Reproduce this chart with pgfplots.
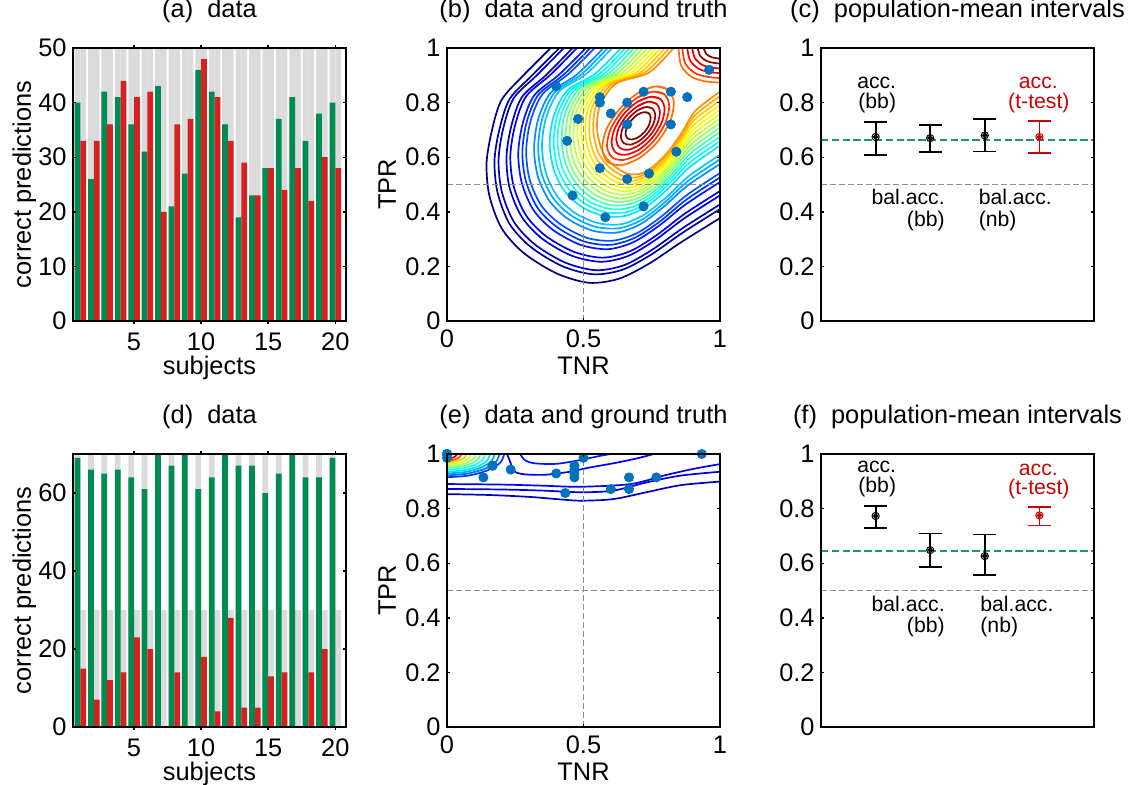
\documentclass[border=0pt]{standalone}
\usepackage{fontspec}
\setmainfont{Liberation Sans}
\usepackage{pgfplots}
\pgfplotsset{compat=1.18}

\definecolor{bargray}{rgb}{0.86,0.86,0.86}
\definecolor{bargreen}{rgb}{0,0.545,0.318}
\definecolor{barred}{rgb}{0.84,0.13,0.13}
\definecolor{dotblue}{rgb}{0,0.447,0.741}
\definecolor{refgray}{rgb}{0.55,0.55,0.55}
\definecolor{linegreen}{rgb}{0.1,0.6,0.4}
\definecolor{ttred}{rgb}{0.8,0,0}
% jet colormap, 35 levels
\definecolor{k01}{rgb}{0,0,0.5}
\definecolor{k02}{rgb}{0,0,0.62}
\definecolor{k03}{rgb}{0,0,0.74}
\definecolor{k04}{rgb}{0,0,0.85}
\definecolor{k05}{rgb}{0,0,0.97}
\definecolor{k06}{rgb}{0,0.09,1}
\definecolor{k07}{rgb}{0,0.21,1}
\definecolor{k08}{rgb}{0,0.32,1}
\definecolor{k09}{rgb}{0,0.44,1}
\definecolor{k10}{rgb}{0,0.56,1}
\definecolor{k11}{rgb}{0,0.68,1}
\definecolor{k12}{rgb}{0,0.79,1}
\definecolor{k13}{rgb}{0,0.91,1}
\definecolor{k14}{rgb}{0.03,1,0.97}
\definecolor{k15}{rgb}{0.15,1,0.85}
\definecolor{k16}{rgb}{0.26,1,0.74}
\definecolor{k17}{rgb}{0.38,1,0.62}
\definecolor{k18}{rgb}{0.5,1,0.5}
\definecolor{k19}{rgb}{0.62,1,0.38}
\definecolor{k20}{rgb}{0.74,1,0.26}
\definecolor{k21}{rgb}{0.85,1,0.15}
\definecolor{k22}{rgb}{0.97,1,0.03}
\definecolor{k23}{rgb}{1,0.91,0}
\definecolor{k24}{rgb}{1,0.79,0}
\definecolor{k25}{rgb}{1,0.68,0}
\definecolor{k26}{rgb}{1,0.56,0}
\definecolor{k27}{rgb}{1,0.44,0}
\definecolor{k28}{rgb}{1,0.32,0}
\definecolor{k29}{rgb}{1,0.21,0}
\definecolor{k30}{rgb}{1,0.09,0}
\definecolor{k31}{rgb}{0.97,0,0}
\definecolor{k32}{rgb}{0.85,0,0}
\definecolor{k33}{rgb}{0.74,0,0}
\definecolor{k34}{rgb}{0.62,0,0}
\definecolor{k35}{rgb}{0.5,0,0}

\newcommand{\annot}{\fontsize{10.6}{12}\selectfont}

\pgfplotsset{
  panel/.style={
    scale only axis, width=136.5pt, height=136.5pt, anchor=south west,
    font=\fontsize{12.7}{15}\selectfont,
    axis on top,
    tick align=inside, tick pos=both,
    major tick length=1.6pt,
    axis line style={line width=0.8pt},
    every tick/.style={black, line width=0.7pt},
    /pgf/number format/assume math mode=true,
    xticklabel style={anchor=base, inner sep=0pt, yshift=-13.3pt},
    yticklabel style={anchor=east, inner sep=0pt, xshift=-3pt},
    title style={at={(axis description cs:0.5,1.068)}, anchor=base, inner sep=0pt},
    every axis x label/.style={at={(axis description cs:0.5,-0.1945)}, anchor=base, inner sep=0pt},
    every axis y label/.style={at={(axis description cs:-0.1544,0.5)}, rotate=90, anchor=base, inner sep=0pt},
  },
  cl/.style={no markers, smooth, line width=0.85pt},
  dots/.style={only marks, mark=*, mark size=2.3pt, mark options={draw=dotblue, fill=dotblue}},
  gdash/.style={no markers, refgray, line width=0.6pt, dash pattern=on 3pt off 1.5pt},
  ebar/.style={only marks, mark=*, mark size=0.9pt, line width=0.9pt,
    error bars/y dir=both, error bars/y explicit,
    error bars/error bar style={line width=0.9pt},
    error bars/error mark options={rotate=90, mark size=5.7pt, line width=0.9pt}},
  ering/.style={only marks, mark=o, mark size=1.8pt, mark options={line width=0.5pt}},
}

\begin{document}
\begin{tikzpicture}
\path[use as bounding box] (0,0) rectangle (565pt,392pt);

% (a) bars
\begin{axis}[panel, at={(36.5pt,231.5pt)},
  ybar, bar width=0.43, enlargelimits=false,
  xmin=0.45, xmax=20.8, ymin=0, ymax=50,
  xtick={5,10,15,20}, ytick={0,10,20,30,40,50},
  title={(a)~~data}, xlabel={subjects}, ylabel={correct predictions}]
\addplot[fill=bargray, draw=none, bar shift=-0.215] coordinates {
 (1,50)(2,50)(3,50)(4,50)(5,50)(6,50)(7,50)(8,50)(9,50)(10,50)
 (11,50)(12,50)(13,50)(14,50)(15,50)(16,50)(17,50)(18,50)(19,50)(20,50)};
\addplot[fill=bargray, draw=none, bar shift=0.215] coordinates {
 (1,50)(2,50)(3,50)(4,50)(5,50)(6,50)(7,50)(8,50)(9,50)(10,50)
 (11,50)(12,50)(13,50)(14,50)(15,50)(16,50)(17,50)(18,50)(19,50)(20,50)};
\addplot[fill=bargreen, draw=none, bar shift=-0.215] coordinates {
 (1,40)(2,26)(3,42)(4,41)(5,36)(6,31)(7,43)(8,21)(9,27)(10,46)
 (11,42)(12,36)(13,19)(14,23)(15,28)(16,37)(17,41)(18,33)(19,38)(20,40)};
\addplot[fill=barred, draw=none, bar shift=0.215] coordinates {
 (1,33)(2,33)(3,36)(4,44)(5,41)(6,42)(7,20)(8,36)(9,37)(10,48)
 (11,41)(12,33)(13,29)(14,23)(15,28)(16,24)(17,28)(18,22)(19,30)(20,28)};
\end{axis}

% (b) contours and data
\begin{axis}[panel, at={(223.5pt,231.5pt)}, clip mode=individual,
  xmin=0, xmax=1, ymin=0, ymax=1,
  xtick={0,0.5,1}, ytick={0,0.2,0.4,0.6,0.8,1},
  title={(b)~~data and ground truth}, xlabel={TNR}, ylabel={TPR},
  ylabel style={at={(axis description cs:-0.1875,0.5)}}]
\addplot[cl, k01] coordinates {(0.380,1) (0.280,0.900) (0.200,0.810) (0.165,0.700) (0.145,0.580) (0.155,0.460) (0.200,0.340) (0.280,0.250) (0.400,0.175) (0.520,0.140) (0.630,0.155) (0.740,0.210) (0.860,0.290) (1,0.377)};
\addplot[cl, k02] coordinates {(0.412,1) (0.313,0.901) (0.230,0.814) (0.193,0.706) (0.174,0.589) (0.185,0.471) (0.229,0.356) (0.307,0.271) (0.422,0.201) (0.537,0.171) (0.643,0.188) (0.749,0.244) (0.864,0.324) (1,0.410)};
\addplot[cl, k03] coordinates {(0.428,1) (0.330,0.901) (0.245,0.817) (0.207,0.710) (0.189,0.593) (0.200,0.477) (0.244,0.365) (0.321,0.281) (0.433,0.214) (0.546,0.186) (0.650,0.205) (0.753,0.262) (0.866,0.342) (1,0.427)};
\addplot[cl, k04] coordinates {(0.460,1) (0.363,0.901) (0.275,0.821) (0.236,0.716) (0.218,0.602) (0.229,0.489) (0.274,0.381) (0.348,0.302) (0.455,0.240) (0.563,0.217) (0.663,0.238) (0.762,0.296) (0.869,0.376) (1,0.460)};
\addplot[cl, k05] coordinates {(0.476,1) (0.379,0.902) (0.290,0.823) (0.250,0.719) (0.232,0.606) (0.244,0.494) (0.288,0.389) (0.361,0.312) (0.466,0.253) (0.571,0.232) (0.669,0.255) (0.766,0.313) (0.871,0.393) (1,0.476)};
\addplot[cl, k06] coordinates {(0.509,1) (0.411,0.903) (0.320,0.827) (0.278,0.726) (0.261,0.614) (0.274,0.506) (0.317,0.406) (0.389,0.333) (0.489,0.279) (0.589,0.263) (0.681,0.288) (0.774,0.347) (0.874,0.427) (1,0.509)};
\addplot[cl, k07] coordinates {(0.525,1) (0.428,0.903) (0.335,0.829) (0.292,0.729) (0.276,0.619) (0.289,0.512) (0.332,0.414) (0.403,0.344) (0.500,0.292) (0.598,0.279) (0.688,0.305) (0.779,0.364) (0.876,0.444) (1,0.526)};
\addplot[cl, k08] coordinates {(0.541,1) (0.444,0.904) (0.350,0.831) (0.306,0.732) (0.290,0.623) (0.303,0.517) (0.346,0.422) (0.416,0.354) (0.511,0.305) (0.606,0.294) (0.694,0.321) (0.783,0.381) (0.878,0.461) (1,0.542)};
\addplot[cl, k10] coordinates {(0.573,1) (0.477,0.904) (0.380,0.836) (0.334,0.739) (0.319,0.631) (0.333,0.529) (0.376,0.439) (0.443,0.374) (0.533,0.331) (0.623,0.324) (0.707,0.354) (0.791,0.416) (0.881,0.496) (1,0.575)};
\addplot[cl, k11] coordinates {(0.589,1) (0.494,0.905) (0.395,0.838) (0.349,0.742) (0.334,0.636) (0.348,0.535) (0.391,0.447) (0.457,0.385) (0.544,0.345) (0.632,0.340) (0.714,0.371) (0.796,0.433) (0.883,0.513) (1,0.592)};
\addplot[cl, k12] coordinates {(0.605,1) (0.510,0.905) (0.410,0.840) (0.363,0.745) (0.348,0.640) (0.363,0.540) (0.405,0.455) (0.470,0.395) (0.555,0.358) (0.640,0.355) (0.720,0.388) (0.800,0.450) (0.885,0.530) (1,0.609)};
\addplot[cl, k13] coordinates {(0.637,1) (0.543,0.906) (0.440,0.844) (0.391,0.751) (0.376,0.649) (0.392,0.551) (0.434,0.471) (0.497,0.416) (0.577,0.384) (0.657,0.386) (0.733,0.421) (0.809,0.484) (0.889,0.564) (1,0.642)};
\addplot[cl, k14] coordinates {(0.653,1) (0.560,0.906) (0.455,0.847) (0.405,0.755) (0.391,0.653) (0.407,0.557) (0.449,0.480) (0.511,0.426) (0.588,0.397) (0.666,0.401) (0.740,0.438) (0.813,0.502) (0.891,0.582) (1,0.659)};
\addplot[cl, k15] coordinates {(0.669,1) (0.576,0.906) (0.470,0.849) (0.419,0.758) (0.405,0.657) (0.422,0.563) (0.464,0.488) (0.524,0.436) (0.599,0.410) (0.674,0.416) (0.746,0.454) (0.817,0.519) (0.892,0.599) (1,0.675)};
\addplot[cl, k16] coordinates {(0.685,1) (0.593,0.907) (0.485,0.851) (0.433,0.761) (0.420,0.662) (0.437,0.569) (0.479,0.496) (0.538,0.447) (0.610,0.423) (0.683,0.432) (0.753,0.471) (0.822,0.536) (0.894,0.616) (1,0.692)};
\addplot[cl, k18] coordinates {(0.701,1) (0.609,0.907) (0.500,0.853) (0.447,0.764) (0.434,0.666) (0.451,0.574) (0.493,0.504) (0.551,0.457) (0.621,0.436) (0.691,0.447) (0.759,0.487) (0.826,0.553) (0.896,0.633) (1,0.708)};
\addplot[cl, k19] coordinates {(0.718,1) (0.625,0.908) (0.515,0.855) (0.461,0.768) (0.449,0.670) (0.466,0.580) (0.508,0.513) (0.565,0.468) (0.633,0.449) (0.700,0.463) (0.765,0.504) (0.830,0.570) (0.898,0.650) (1,0.725)};
\addplot[cl, k20] coordinates {(0.734,1) (0.641,0.908) (0.530,0.857) (0.475,0.771) (0.463,0.674) (0.481,0.586) (0.522,0.521) (0.579,0.478) (0.644,0.462) (0.709,0.478) (0.771,0.520) (0.834,0.587) (0.899,0.667) (1,0.741)};
\addplot[cl, k21] coordinates {(0.750,1) (0.658,0.909) (0.545,0.859) (0.490,0.774) (0.478,0.679) (0.496,0.592) (0.537,0.529) (0.593,0.489) (0.655,0.475) (0.718,0.494) (0.778,0.537) (0.839,0.604) (0.901,0.684) (1,0.758)};
\addplot[cl, k22] coordinates {(0.766,1) (0.674,0.909) (0.560,0.861) (0.504,0.777) (0.492,0.683) (0.511,0.597) (0.551,0.537) (0.606,0.499) (0.666,0.488) (0.726,0.509) (0.784,0.554) (0.843,0.621) (0.903,0.701) (1,0.774)};
\addplot[cl, k23] coordinates {(0.782,1) (0.691,0.909) (0.575,0.864) (0.518,0.781) (0.507,0.687) (0.526,0.603) (0.566,0.546) (0.620,0.509) (0.677,0.501) (0.735,0.524) (0.791,0.571) (0.847,0.639) (0.905,0.719) (1,0.791)};
\addplot[cl, k24] coordinates {(0.798,1) (0.707,0.909) (0.590,0.866) (0.532,0.784) (0.521,0.691) (0.540,0.609) (0.581,0.554) (0.633,0.519) (0.688,0.514) (0.743,0.539) (0.797,0.587) (0.851,0.656) (0.906,0.736) (1,0.807)};
\addplot[cl, k25] coordinates {(0.814,1) (0.724,0.910) (0.605,0.868) (0.546,0.787) (0.536,0.696) (0.555,0.615) (0.596,0.562) (0.647,0.530) (0.699,0.527) (0.752,0.555) (0.804,0.604) (0.856,0.673) (0.908,0.753) (1,0.824)};
\addplot[cl, k26] coordinates {(0.830,1) (0.740,0.910) (0.620,0.870) (0.560,0.790) (0.550,0.700) (0.570,0.620) (0.610,0.570) (0.660,0.540) (0.710,0.540) (0.760,0.570) (0.810,0.620) (0.860,0.690) (0.910,0.770) (1,0.840)};
% closed contours round the main peak
\addplot[cl, k27] coordinates {(0.811,0.847) (0.761,0.859) (0.695,0.832) (0.630,0.774) (0.583,0.700) (0.569,0.630) (0.589,0.583) (0.639,0.571) (0.706,0.598) (0.771,0.656) (0.817,0.730) (0.831,0.800) (0.811,0.847) (0.761,0.859) (0.695,0.832)};
\addplot[cl, k29] coordinates {(0.797,0.830) (0.753,0.840) (0.695,0.817) (0.639,0.766) (0.599,0.702) (0.586,0.641) (0.604,0.600) (0.647,0.590) (0.705,0.613) (0.761,0.664) (0.801,0.728) (0.814,0.789) (0.797,0.830) (0.753,0.840) (0.695,0.817)};
\addplot[cl, k31] coordinates {(0.782,0.813) (0.745,0.821) (0.696,0.802) (0.648,0.759) (0.614,0.704) (0.603,0.652) (0.618,0.617) (0.655,0.609) (0.704,0.628) (0.752,0.671) (0.786,0.726) (0.797,0.778) (0.782,0.813) (0.745,0.821) (0.696,0.802)};
\addplot[cl, k32] coordinates {(0.768,0.795) (0.737,0.803) (0.697,0.786) (0.657,0.751) (0.629,0.706) (0.620,0.663) (0.632,0.635) (0.663,0.627) (0.703,0.644) (0.743,0.679) (0.771,0.724) (0.780,0.767) (0.768,0.795) (0.737,0.803) (0.697,0.786)};
\addplot[cl, k34] coordinates {(0.753,0.778) (0.729,0.784) (0.697,0.771) (0.666,0.743) (0.644,0.708) (0.637,0.674) (0.647,0.652) (0.671,0.646) (0.703,0.659) (0.734,0.687) (0.756,0.722) (0.763,0.756) (0.753,0.778) (0.729,0.784) (0.697,0.771)};
\addplot[cl, k35] coordinates {(0.739,0.761) (0.721,0.765) (0.698,0.756) (0.676,0.736) (0.659,0.710) (0.654,0.686) (0.661,0.669) (0.679,0.665) (0.702,0.674) (0.725,0.694) (0.741,0.720) (0.746,0.745) (0.739,0.761) (0.721,0.765) (0.698,0.756)};
% contours round the corner (1,1)
\addplot[cl, k27] coordinates {(0.848,1) (0.858,0.935) (0.895,0.895) (0.945,0.878) (1,0.873)};
\addplot[cl, k29] coordinates {(0.862,1) (0.872,0.945) (0.905,0.910) (0.950,0.895) (1,0.890)};
\addplot[cl, k31] coordinates {(0.880,1) (0.890,0.955) (0.920,0.925) (0.960,0.912) (1,0.908)};
\addplot[cl, k32] coordinates {(0.898,1) (0.908,0.963) (0.935,0.938) (0.970,0.928) (1,0.925)};
\addplot[cl, k34] coordinates {(0.918,1) (0.928,0.970) (0.952,0.952) (0.980,0.945) (1,0.943)};
\addplot[cl, k35] coordinates {(0.940,1) (0.950,0.978) (0.970,0.966) (1,0.961)};
\addplot[gdash] coordinates {(0.5,0) (0.5,1)};
\addplot[gdash] coordinates {(0,0.5) (1,0.5)};
\addplot[dots] coordinates {
 (0.66,0.80) (0.66,0.52) (0.72,0.84) (0.88,0.82) (0.82,0.72)
 (0.84,0.62) (0.40,0.86) (0.72,0.42) (0.74,0.54) (0.96,0.92)
 (0.82,0.84) (0.66,0.72) (0.58,0.38) (0.46,0.46) (0.56,0.56)
 (0.48,0.74) (0.56,0.82) (0.44,0.66) (0.60,0.76) (0.56,0.80)};
\end{axis}

% (c) intervals
\begin{axis}[panel, at={(410.5pt,231.5pt)},
  xmin=0, xmax=5, ymin=0, ymax=1,
  xtick=\empty, ytick={0,0.2,0.4,0.6,0.8,1},
  title={(c)~~population-mean intervals}]
\addplot[gdash] coordinates {(0,0.5) (5,0.5)};
\addplot[no markers, linegreen, line width=1pt, dash pattern=on 3.7pt off 1.7pt] coordinates {(0,0.664) (5,0.664)};
\addplot[black, ebar] coordinates {
 (1,0.674) += (0,0.055) -= (0,0.065)
 (2,0.670) += (0,0.049) -= (0,0.051)
 (3,0.680) += (0,0.060) -= (0,0.059)};
\addplot[black, ering] coordinates {(1,0.674) (2,0.670) (3,0.680)};
\addplot[ttred, ebar] coordinates {(4,0.674) += (0,0.058) -= (0,0.059)};
\addplot[ttred, ering] coordinates {(4,0.674)};
\node[anchor=base, font=\annot] at (axis cs:1.02,0.852) {acc.};
\node[anchor=base, font=\annot] at (axis cs:1.03,0.779) {(bb)};
\node[anchor=base, font=\annot, text=ttred] at (axis cs:3.98,0.852) {acc.};
\node[anchor=base, font=\annot, text=ttred] at (axis cs:3.99,0.779) {(t-test)};
\node[anchor=base east, font=\annot] at (axis cs:2.394,0.425) {bal.acc.};
\node[anchor=base east, font=\annot] at (axis cs:2.394,0.345) {(bb)};
\node[anchor=base west, font=\annot] at (axis cs:2.76,0.425) {bal.acc.};
\node[anchor=base west, font=\annot] at (axis cs:2.76,0.345) {(nb)};
\end{axis}

% (d) bars
\begin{axis}[panel, at={(36.5pt,28.5pt)},
  ybar, bar width=0.43, enlargelimits=false,
  xmin=0.45, xmax=20.8, ymin=0, ymax=70,
  xtick={5,10,15,20}, ytick={0,20,40,60},
  title={(d)~~data}, xlabel={subjects}, ylabel={correct predictions}]
\addplot[fill=bargray, draw=none, bar shift=-0.215] coordinates {
 (1,70)(2,70)(3,70)(4,70)(5,70)(6,70)(7,70)(8,70)(9,70)(10,70)
 (11,70)(12,70)(13,70)(14,70)(15,70)(16,70)(17,70)(18,70)(19,70)(20,70)};
\addplot[fill=bargray, draw=none, bar shift=0.215] coordinates {
 (1,30)(2,30)(3,30)(4,30)(5,30)(6,30)(7,30)(8,30)(9,30)(10,30)
 (11,30)(12,30)(13,30)(14,30)(15,30)(16,30)(17,30)(18,30)(19,30)(20,30)};
\addplot[fill=bargreen, draw=none, bar shift=-0.215] coordinates {
 (1,69)(2,66)(3,65)(4,66)(5,64)(6,61)(7,70)(8,67)(9,70)(10,61)
 (11,64)(12,70)(13,67)(14,67)(15,60)(16,65)(17,70)(18,64)(19,64)(20,69)};
\addplot[fill=barred, draw=none, bar shift=0.215] coordinates {
 (1,15)(2,7)(3,12)(4,14)(5,23)(6,20)(7,0)(8,14)(9,0)(10,18)
 (11,4)(12,28)(13,5)(14,5)(15,13)(16,14)(17,0)(18,14)(19,20)(20,0)};
\end{axis}

% (e) contours and data
\begin{axis}[panel, at={(223.5pt,28.5pt)}, clip mode=individual,
  xmin=0, xmax=1, ymin=0, ymax=1,
  xtick={0,0.5,1}, ytick={0,0.2,0.4,0.6,0.8,1},
  title={(e)~~data and ground truth}, xlabel={TNR}, ylabel={TPR},
  ylabel style={at={(axis description cs:-0.1875,0.5)}}]
\addplot[cl, k03] coordinates {(0,0.853) (0.15,0.850) (0.30,0.843) (0.40,0.835) (0.49,0.829) (0.61,0.835) (0.735,0.861) (0.857,0.886) (1,0.899)};
\addplot[cl, k04] coordinates {(0,0.872) (0.20,0.870) (0.35,0.866) (0.489,0.860) (0.61,0.866) (0.735,0.897) (0.857,0.921) (1,0.935)};
\addplot[cl, k05] coordinates {(0,0.890) (0.20,0.888) (0.35,0.884) (0.489,0.880) (0.673,0.890) (0.794,0.921) (0.90,0.945) (1,0.963)};
\addplot[cl, k05] coordinates {(0.22,1) (0.232,0.970) (0.245,0.938) (0.28,0.926) (0.36,0.924) (0.45,0.935) (0.52,0.950) (0.62,0.968) (0.70,0.985) (0.757,1)};
\addplot[cl, k06] coordinates {(0.268,1) (0.285,0.978) (0.32,0.966) (0.40,0.964) (0.489,0.978) (0.56,0.993) (0.60,1)};
% peak at the corner (0,1)
\addplot[cl, k07] coordinates {(0.21,1) (0.194,0.967) (0.148,0.940) (0.080,0.921) (0,0.915)};
\addplot[cl, k09] coordinates {(0.1925,1) (0.178,0.970) (0.136,0.945) (0.074,0.928) (0,0.922)};
\addplot[cl, k11] coordinates {(0.175,1) (0.162,0.973) (0.124,0.950) (0.067,0.934) (0,0.929)};
\addplot[cl, k13] coordinates {(0.1575,1) (0.146,0.975) (0.111,0.954) (0.060,0.940) (0,0.935)};
\addplot[cl, k15] coordinates {(0.14,1) (0.129,0.978) (0.099,0.959) (0.054,0.947) (0,0.942)};
\addplot[cl, k17] coordinates {(0.1225,1) (0.113,0.980) (0.087,0.964) (0.047,0.953) (0,0.949)};
\addplot[cl, k19] coordinates {(0.105,1) (0.097,0.983) (0.074,0.969) (0.040,0.959) (0,0.956)};
\addplot[cl, k21] coordinates {(0.0875,1) (0.081,0.986) (0.062,0.974) (0.034,0.965) (0,0.963)};
\addplot[cl, k24] coordinates {(0.07,1) (0.065,0.988) (0.049,0.978) (0.027,0.972) (0,0.969)};
\addplot[cl, k28] coordinates {(0.0525,1) (0.0485,0.991) (0.037,0.983) (0.020,0.978) (0,0.976)};
\addplot[cl, k32] coordinates {(0.035,1) (0.032,0.993) (0.025,0.988) (0.013,0.984) (0,0.983)};
\addplot[cl, k35] coordinates {(0.0175,1) (0.016,0.996) (0.012,0.993) (0.0067,0.991) (0,0.990)};
\addplot[gdash] coordinates {(0.5,0) (0.5,1)};
\addplot[gdash] coordinates {(0,0.5) (1,0.5)};
\addplot[dots] coordinates {
 (0.5,0.9857) (0.2333,0.9429) (0.4,0.9286) (0.4667,0.9429) (0.7667,0.9143)
 (0.6667,0.8714) (0,1) (0.4667,0.9571) (0,1) (0.6,0.8714)
 (0.1333,0.9143) (0.9333,1) (0.1667,0.9571) (0.1667,0.9571) (0.4333,0.8571)
 (0.4667,0.9286) (0,1) (0.4667,0.9143) (0.6667,0.9143) (0,0.9857)};
\end{axis}

% (f) intervals
\begin{axis}[panel, at={(410.5pt,28.5pt)},
  xmin=0, xmax=5, ymin=0, ymax=1,
  xtick=\empty, ytick={0,0.2,0.4,0.6,0.8,1},
  title={(f)~~population-mean intervals}]
\addplot[gdash] coordinates {(0,0.5) (5,0.5)};
\addplot[no markers, linegreen, line width=1pt, dash pattern=on 3.7pt off 1.7pt] coordinates {(0,0.644) (5,0.644)};
\addplot[black, ebar] coordinates {
 (1,0.773) += (0,0.036) -= (0,0.043)
 (2,0.648) += (0,0.061) -= (0,0.061)
 (3,0.626) += (0,0.079) -= (0,0.069)};
\addplot[black, ering] coordinates {(1,0.773) (2,0.648) (3,0.626)};
\addplot[ttred, ebar] coordinates {(4,0.775) += (0,0.032) -= (0,0.037)};
\addplot[ttred, ering] coordinates {(4,0.775)};
\node[anchor=base, font=\annot] at (axis cs:1.02,0.931) {acc.};
\node[anchor=base, font=\annot] at (axis cs:1.03,0.858) {(bb)};
\node[anchor=base, font=\annot, text=ttred] at (axis cs:3.98,0.923) {acc.};
\node[anchor=base, font=\annot, text=ttred] at (axis cs:3.99,0.852) {(t-test)};
\node[anchor=base east, font=\annot] at (axis cs:2.394,0.422) {bal.acc.};
\node[anchor=base east, font=\annot] at (axis cs:2.394,0.345) {(bb)};
\node[anchor=base west, font=\annot] at (axis cs:2.79,0.422) {bal.acc.};
\node[anchor=base west, font=\annot] at (axis cs:2.79,0.345) {(nb)};
\end{axis}
\end{tikzpicture}
\end{document}
